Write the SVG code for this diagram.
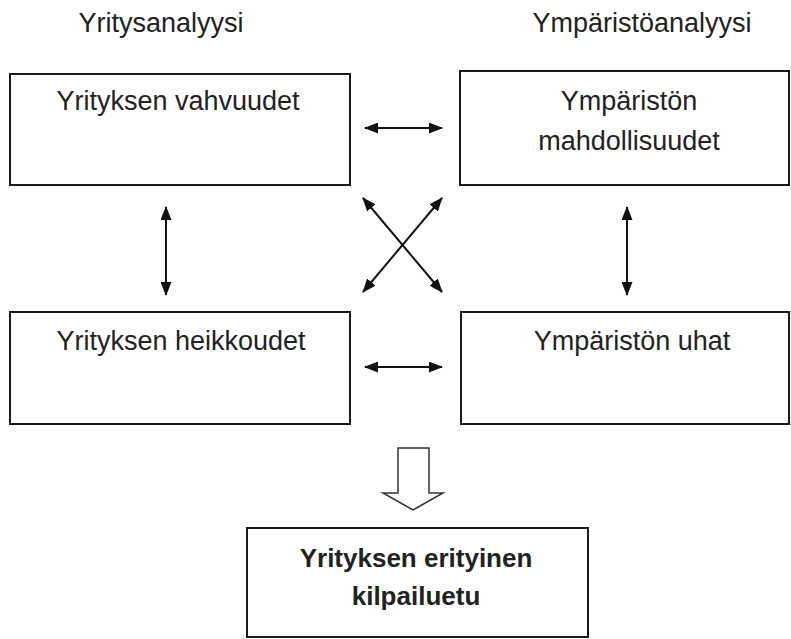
<svg xmlns="http://www.w3.org/2000/svg" width="791" height="639" viewBox="0 0 791 639">
<style>
.box{fill:#fff;stroke:#1a1a1a;stroke-width:2}
.t{font-family:"Liberation Sans",Arial,sans-serif;font-size:27px;fill:#222;text-anchor:middle}
.b{font-weight:bold;font-size:26px}
.c{stroke:#111;stroke-width:2;fill:none;marker-start:url(#ah);marker-end:url(#ah)}
</style>
<defs>
<marker id="ah" viewBox="0 0 14 11" refX="13" refY="5.5" markerWidth="14" markerHeight="11" markerUnits="userSpaceOnUse" orient="auto-start-reverse">
<path d="M0,0 L14,5.5 L0,11 Z" fill="#111"/>
</marker>
</defs>
<rect width="791" height="639" fill="#fff"/>
<text class="t" x="161" y="32">Yritysanalyysi</text>
<text class="t" x="642" y="32">Ympäristöanalyysi</text>
<g id="vahvuudet">
<rect class="box" x="10" y="74" width="340" height="111"/>
<text class="t" x="178" y="110">Yrityksen vahvuudet</text>
</g>
<g id="mahdollisuudet">
<rect class="box" x="460" y="71" width="329" height="114"/>
<text class="t" x="629" y="110">Ympäristön</text>
<text class="t" x="629" y="150">mahdollisuudet</text>
</g>
<g id="heikkoudet">
<rect class="box" x="10" y="312" width="340" height="112"/>
<text class="t" x="181" y="350">Yrityksen heikkoudet</text>
</g>
<g id="uhat">
<rect class="box" x="461" y="312" width="328" height="112"/>
<text class="t" x="632" y="350">Ympäristön uhat</text>
</g>
<g id="kilpailuetu">
<rect class="box" x="247" y="528" width="341" height="109"/>
<text class="t b" x="416" y="567">Yrityksen erityinen</text>
<text class="t b" x="416" y="605">kilpailuetu</text>
</g>
<g id="connectors">
<line class="c" x1="365" y1="128" x2="442" y2="128"/>
<line class="c" x1="365" y1="367" x2="442" y2="367"/>
<line class="c" x1="166" y1="207" x2="166" y2="295"/>
<line class="c" x1="627" y1="207" x2="627" y2="295"/>
<line class="c" x1="363" y1="198" x2="442" y2="292"/>
<line class="c" x1="442" y1="198" x2="363" y2="292"/>
<path d="M398,448 L429,448 L429,493 L443,493 L413,510 L383,493 L398,493 Z" fill="#fff" stroke="#333" stroke-width="1.5"/>
</g>
</svg>
